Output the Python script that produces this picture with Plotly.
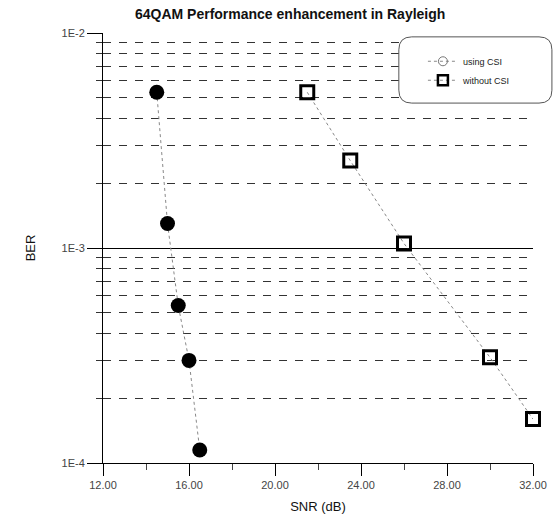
import plotly.graph_objects as go

# SNR (dB) and bit error rate for each receiver configuration
snr_csi = [14.5, 15.0, 15.5, 16.0, 16.5]
ber_csi = [5.3e-3, 1.3e-3, 5.4e-4, 3.0e-4, 1.15e-4]

snr_no_csi = [21.5, 23.5, 26.0, 30.0, 32.0]
ber_no_csi = [5.3e-3, 2.55e-3, 1.05e-3, 3.1e-4, 1.6e-4]

x_ticks = [12, 16, 20, 24, 28, 32]
y_ticks = [1e-4, 1e-3, 1e-2]
y_tick_text = ["1E-4", "1E-3", "1E-2"]
y_minor = [m * 10.0 ** e for e in (-4, -3) for m in range(2, 10)]

FONT = "Liberation Sans, Arial, sans-serif"

fig = go.Figure()

fig.add_trace(go.Scatter(
    x=snr_csi, y=ber_csi, mode="lines+markers", showlegend=False,
    cliponaxis=False,
    line=dict(color="#888888", width=1, dash="dot"),
    marker=dict(symbol="circle", size=15, color="black"),
))
fig.add_trace(go.Scatter(
    x=snr_no_csi, y=ber_no_csi, mode="lines+markers", showlegend=False,
    cliponaxis=False,
    line=dict(color="#888888", width=1, dash="dot"),
    marker=dict(symbol="square-open", size=13, color="black",
                line=dict(width=3, color="black")),
))

# legend entries with the small marker style
fig.add_trace(go.Scatter(
    x=[None], y=[None], mode="lines+markers", name="using CSI",
    line=dict(color="#888888", width=1, dash="dot"),
    marker=dict(symbol="circle-open", size=9, color="#777777",
                line=dict(width=1, color="#777777")),
))
fig.add_trace(go.Scatter(
    x=[None], y=[None], mode="lines+markers", name="without CSI",
    line=dict(color="#888888", width=1, dash="dot"),
    marker=dict(symbol="square-open", size=10, color="black",
                line=dict(width=2.5, color="black")),
))

# rounded legend frame (paper coordinates)
x0, x1, y0, y1, r = 0.688, 1.044, 0.837, 0.991, 0.03
ry = r * 430 / 429.4
frame = (f"M {x0 + r},{y1} L {x1 - r},{y1} Q {x1},{y1} {x1},{y1 - ry} "
         f"L {x1},{y0 + ry} Q {x1},{y0} {x1 - r},{y0} "
         f"L {x0 + r},{y0} Q {x0},{y0} {x0},{y0 + ry} "
         f"L {x0},{y1 - ry} Q {x0},{y1} {x0 + r},{y1} Z")

fig.update_layout(
    width=558, height=518,
    margin=dict(l=103, r=25, t=33, b=55),
    paper_bgcolor="white", plot_bgcolor="white",
    font=dict(family=FONT, color="black"),
    title=dict(text="<b>64QAM Performance enhancement in Rayleigh</b>",
               x=0.52, xanchor="center", y=0.972, yanchor="middle",
               font=dict(size=14, family=FONT, color="#111111")),
    shapes=[dict(type="path", path=frame, xref="paper", yref="paper",
                 line=dict(color="#555555", width=1), fillcolor="white",
                 layer="above")],
    legend=dict(x=0.744, y=0.968, xanchor="left", yanchor="top",
                bgcolor="rgba(0,0,0,0)", borderwidth=0,
                font=dict(size=9, family=FONT, color="#222222"),
                tracegroupgap=0, itemwidth=30),
    xaxis=dict(
        range=[12, 32], tickmode="array", tickvals=x_ticks,
        tickformat=".2f", ticks="outside", ticklen=12, tickwidth=1,
        tickcolor="black", showgrid=False, zeroline=False,
        showline=True, linecolor="black", linewidth=1, automargin=False,
        tickfont=dict(size=11, color="#444444", family=FONT),
        minor=dict(dtick=2, tick0=12, ticks="outside", ticklen=6,
                   tickcolor="#444444", showgrid=False),
        title=dict(text="SNR (dB)", standoff=11,
                   font=dict(size=13, family=FONT, color="#111111")),
    ),
    yaxis=dict(
        type="log", range=[-4, -2], tickmode="array", tickvals=y_ticks,
        ticktext=y_tick_text, ticks="outside", ticklen=15, tickwidth=1,
        tickcolor="black", showline=True, linecolor="black", linewidth=1,
        zeroline=False, showgrid=True, gridcolor="black", gridwidth=1,
        automargin=False,
        tickfont=dict(size=11, color="#444444", family=FONT),
        minor=dict(tickmode="array", tickvals=y_minor, ticks="outside",
                   ticklen=6, tickcolor="#333333", showgrid=True,
                   gridcolor="#333333", gridwidth=1, griddash="8px,8px"),
        title=dict(text="BER", standoff=22,
                   font=dict(size=13, family=FONT, color="#111111")),
    ),
)

fig.write_html("out.html")
